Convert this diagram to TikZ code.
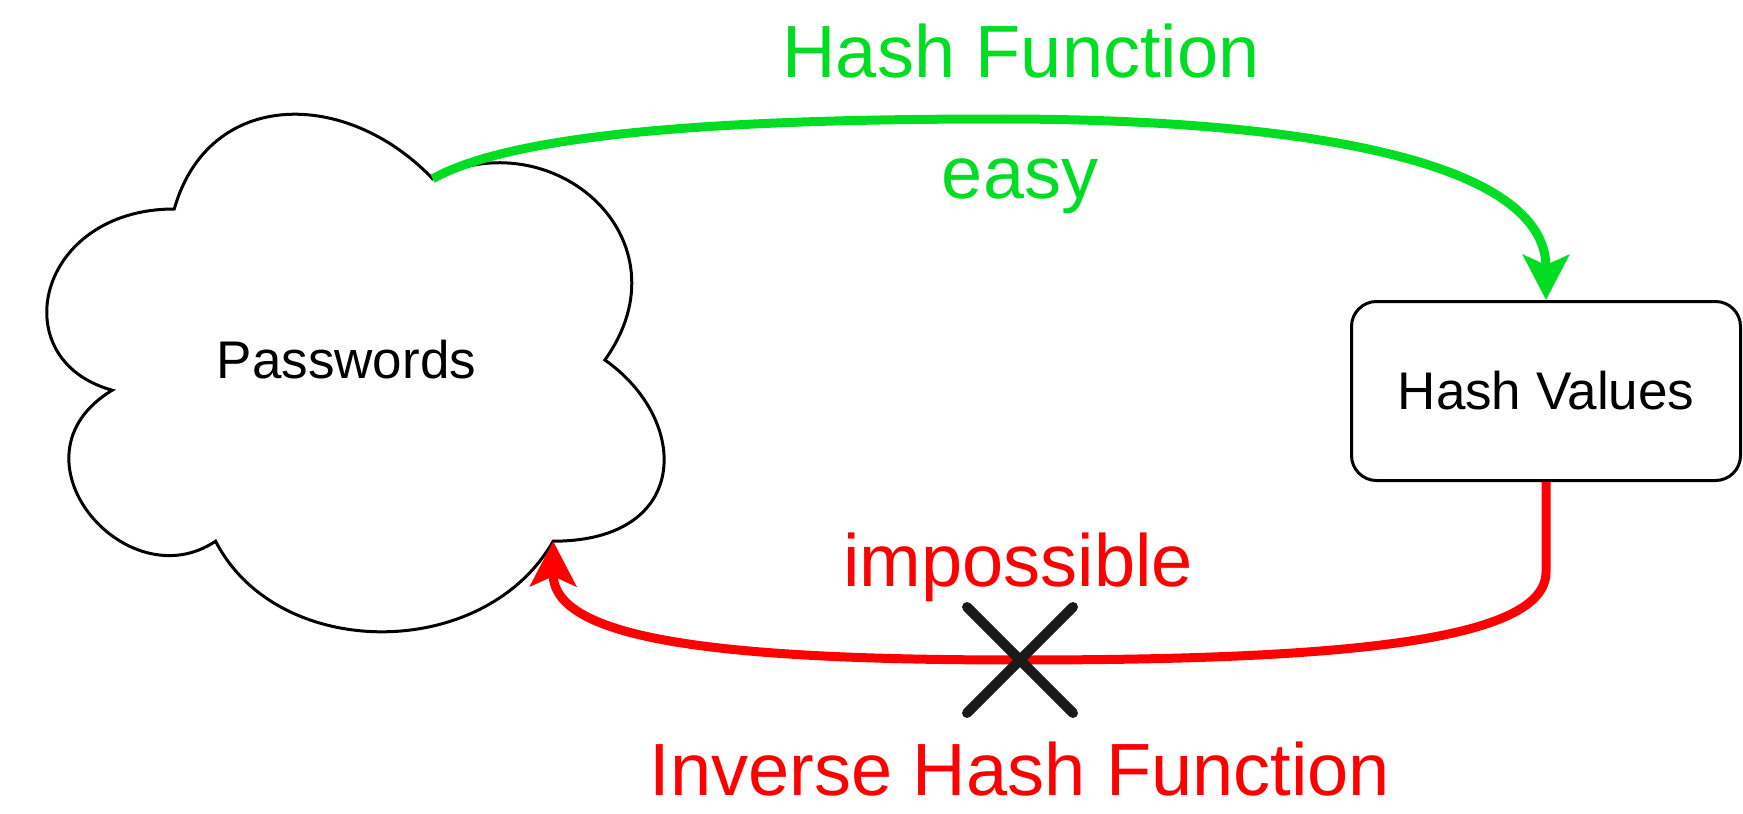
\documentclass[tikz,border=0pt]{standalone}
\usepackage{fontspec}
\setmainfont{Liberation Sans}
\usepackage{xcolor}
\usepackage{tikz}
\usetikzlibrary{arrows.meta, shapes.misc}
\definecolor{hashgreen}{RGB}{0,221,34}
\definecolor{crossgray}{RGB}{26,26,26}
\tikzstyle{cloudline} = [draw=black, line width=1.5pt]
\tikzstyle{process} = [rectangle, rounded corners=12.5pt, minimum width=194.5pt, minimum height=89.5pt, text centered, draw=black, line width=1.5pt, font=\fontsize{26.5}{32}\selectfont]
\tikzstyle{arrow} = [line width=4.5pt, -{Stealth[length=22.5pt, width=23pt, inset=5pt]}]
\tikzstyle{edgetext} = [anchor=base, font=\fontsize{37}{44}\selectfont]
\tikzstyle{crossmark} = [cross out, draw=crossgray, line width=5pt, line cap=round, minimum size=48pt, inner sep=0pt]

\begin{document}
\begin{tikzpicture}[x=0.5pt, y=-0.5pt]
   \useasboundingbox (0,0) rectangle (1743,813);
   % cloud
   \begin{scope}[shift={(2,58)}, xscale=689, yscale=604]
      \draw [cloudline] (0.25,0.25) .. controls (0.05,0.25) and (0,0.5) .. (0.16,0.55)
         .. controls (0,0.66) and (0.18,0.9) .. (0.31,0.8)
         .. controls (0.4,1) and (0.7,1) .. (0.8,0.8)
         .. controls (1,0.8) and (1,0.6) .. (0.875,0.5)
         .. controls (1,0.3) and (0.8,0.1) .. (0.625,0.2)
         .. controls (0.5,0.05) and (0.3,0.05) .. (0.25,0.25) -- cycle;
      \node (pw) [font=\fontsize{26.5}{32}\selectfont] at (0.5,0.5) {Passwords};
      \coordinate (pwtop) at (0.625,0.2);
      \coordinate (pwbot) at (0.8,0.8);
   \end{scope}
   \node (hv) [process] at (1546,391) {Hash Values};
   \draw [arrow, hashgreen] (pwtop) .. controls (520,130) and (750,119) .. (1000,119)
      .. controls (1300,119) and (1546,160) .. (hv.north);
   \draw [arrow, red] (hv.south) -- ++(0,90) .. controls +(0,68) and (1350,660) .. (1020,660)
      .. controls (720,660) and (553,640) .. (pwbot);
   \node (cross) [crossmark] at (1020,660) {};
   % labels
   \node (hf) [edgetext, hashgreen] at (1021,78) {Hash Function};
   \node (easy) [edgetext, hashgreen] at (1020,198) {easy};
   \node (imp) [edgetext, red] at (1018,586) {impossible};
   \node (ihf) [edgetext, red] at (1020,795) {Inverse Hash Function};
\end{tikzpicture}
\end{document}
